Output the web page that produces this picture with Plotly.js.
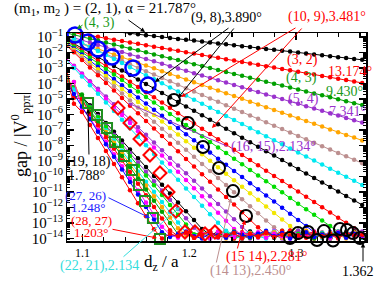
<!DOCTYPE html>
<html><head><meta charset="utf-8">
<script src="https://cdn.plot.ly/plotly-3.0.1.min.js"></script>
<style>html,body{margin:0;padding:0;background:#fff}#chart{width:374px;height:283px}</style>
</head><body><div id="chart"></div>
<script>
// d_z / a grid
const dz = [1.0845,1.092,1.0995,1.107,1.1145,1.122,1.1295,1.137,1.1445,1.152,1.1595,1.167,1.1745,1.182,1.1895,1.197,1.2045,1.212,1.2195,1.227,1.2345,1.242,1.2495,1.257,1.2645,1.272,1.2795,1.287,1.2945,1.302,1.3095,1.317,1.3245,1.332,1.3395,1.347,1.3545,1.362];
// log10(gap/|V|) for (m, m-1)
const lg2 = [-0.29,-0.35,-0.41,-0.47,-0.53,-0.59,-0.64,-0.70,-0.76,-0.82,-0.88,-0.94,-1.00,-1.06,-1.12,-1.18,-1.23,-1.29,-1.35,-1.41,-1.47,-1.53,-1.59,-1.65,-1.71,-1.77,-1.82,-1.88,-1.94,-2.00,-2.06,-2.12,-2.18,-2.24,-2.30,-2.36,-2.41,-2.47];
const lg3 = [-0.63,-0.72,-0.81,-0.90,-0.99,-1.08,-1.17,-1.26,-1.35,-1.44,-1.53,-1.62,-1.71,-1.80,-1.89,-1.98,-2.07,-2.16,-2.25,-2.34,-2.43,-2.52,-2.61,-2.70,-2.79,-2.88,-2.97,-3.06,-3.15,-3.24,-3.33,-3.42,-3.51,-3.60,-3.69,-3.78,-3.87,-3.96];
const lg4 = [-0.73,-0.86,-0.98,-1.11,-1.23,-1.36,-1.49,-1.61,-1.74,-1.86,-1.99,-2.12,-2.24,-2.37,-2.49,-2.62,-2.75,-2.87,-3.00,-3.12,-3.25,-3.38,-3.50,-3.63,-3.75,-3.88,-4.01,-4.13,-4.26,-4.38,-4.51,-4.64,-4.76,-4.89,-5.01,-5.14,-5.27,-5.39];
const lg5 = [-0.90,-1.05,-1.20,-1.36,-1.51,-1.66,-1.81,-1.96,-2.12,-2.27,-2.42,-2.57,-2.72,-2.88,-3.03,-3.18,-3.33,-3.48,-3.64,-3.79,-3.94,-4.09,-4.24,-4.40,-4.55,-4.70,-4.85,-5.00,-5.16,-5.31,-5.46,-5.61,-5.76,-5.92,-6.07,-6.22,-6.37,-6.52];
const lg6 = [-1.05,-1.23,-1.41,-1.59,-1.77,-1.95,-2.12,-2.30,-2.48,-2.66,-2.84,-3.02,-3.20,-3.38,-3.56,-3.74,-3.91,-4.09,-4.27,-4.45,-4.63,-4.81,-4.99,-5.17,-5.35,-5.53,-5.70,-5.88,-6.06,-6.24,-6.42,-6.60,-6.78,-6.96,-7.14,-7.32,-7.49,-7.67];
const lg7 = [-1.00,-1.22,-1.44,-1.66,-1.88,-2.10,-2.32,-2.54,-2.76,-2.98,-3.20,-3.42,-3.64,-3.86,-4.08,-4.30,-4.52,-4.74,-4.96,-5.18,-5.40,-5.62,-5.84,-6.06,-6.28,-6.50,-6.72,-6.94,-7.16,-7.38,-7.60,-7.82,-8.04,-8.26,-8.48,-8.70,-8.92,-9.14];
const lg8 = [-0.85,-1.11,-1.37,-1.64,-1.90,-2.16,-2.42,-2.68,-2.95,-3.21,-3.47,-3.73,-3.99,-4.26,-4.52,-4.78,-5.04,-5.30,-5.57,-5.83,-6.09,-6.35,-6.61,-6.88,-7.14,-7.40,-7.66,-7.92,-8.19,-8.45,-8.71,-8.97,-9.23,-9.50,-9.76,-10.02,-10.28,-10.54];
const lg9 = [-1.14,-1.43,-1.72,-2.01,-2.30,-2.59,-2.87,-3.16,-3.45,-3.74,-4.03,-4.32,-4.61,-4.90,-5.19,-5.48,-5.76,-6.05,-6.34,-6.63,-6.92,-7.21,-7.50,-7.79,-8.08,-8.37,-8.65,-8.94,-9.23,-9.52,-9.81,-10.10,-10.39,-10.68,-10.97,-11.26,-11.54,-11.83];
const lg10 = [-1.18,-1.52,-1.86,-2.19,-2.53,-2.87,-3.21,-3.54,-3.88,-4.22,-4.56,-4.89,-5.23,-5.57,-5.91,-6.24,-6.58,-6.92,-7.26,-7.59,-7.93,-8.27,-8.61,-8.94,-9.28,-9.62,-9.96,-10.29,-10.63,-10.97,-11.31,-11.64,-11.98,-12.32,-12.66,-12.99,-13.33,-13.67];
const lg11 = [-1.25,-1.61,-1.97,-2.34,-2.70,-3.06,-3.42,-3.78,-4.15,-4.51,-4.87,-5.23,-5.59,-5.96,-6.32,-6.68,-7.04,-7.40,-7.77,-8.13,-8.49,-8.85,-9.21,-9.58,-9.94,-10.30,-10.66,-11.02,-11.39,-11.75,-12.11,-12.47,-12.83,-13.20,-13.56,-13.85,-13.7,-13.95];
const lg12 = [-1.34,-1.74,-2.13,-2.53,-2.92,-3.32,-3.71,-4.11,-4.50,-4.90,-5.29,-5.69,-6.08,-6.48,-6.87,-7.27,-7.66,-8.06,-8.45,-8.85,-9.24,-9.64,-10.03,-10.43,-10.82,-11.22,-11.61,-12.01,-12.40,-12.80,-13.19,-13.59,-13.85,-13.6,-13.95,-13.75,-13.5,-13.9];
const lg13 = [-1.40,-1.82,-2.24,-2.66,-3.08,-3.51,-3.93,-4.35,-4.77,-5.19,-5.61,-6.03,-6.45,-6.87,-7.29,-7.72,-8.14,-8.56,-8.98,-9.40,-9.82,-10.24,-10.66,-11.08,-11.50,-11.93,-12.35,-12.77,-13.19,-13.61,-13.9,-13.6,-13.8,-14.0,-13.65,-13.85,-13.55,-13.9];
const lg14 = [-1.45,-1.91,-2.36,-2.82,-3.27,-3.73,-4.18,-4.64,-5.09,-5.55,-6.00,-6.46,-6.91,-7.37,-7.82,-8.28,-8.73,-9.19,-9.64,-10.10,-10.55,-11.01,-11.46,-11.92,-12.37,-12.83,-13.28,-13.74,-13.55,-13.9,-13.7,-14.0,-13.6,-13.85,-13.7,-13.95,-13.6,-13.8];
const lg15 = [-1.50,-1.99,-2.48,-2.97,-3.46,-3.96,-4.45,-4.94,-5.43,-5.92,-6.41,-6.90,-7.39,-7.88,-8.37,-8.87,-9.36,-9.85,-10.34,-10.83,-11.32,-11.81,-12.30,-12.79,-13.28,-13.78,-13.6,-13.95,-13.7,-13.5,-13.85,-14.0,-13.65,-13.8,-13.55,-13.9,-13.7,-13.85];
const lg16 = [-2.36,-2.86,-3.35,-3.85,-4.34,-4.84,-5.33,-5.83,-6.32,-6.82,-7.31,-7.81,-8.30,-8.80,-9.29,-9.79,-10.28,-10.78,-11.27,-11.77,-12.26,-12.76,-13.25,-13.7,-13.9,-13.55,-13.8,-14.0,-13.65,-13.85,-13.5,-13.75,-13.95,-13.6,-13.8,-13.7,-13.9,-13.6];
const lg17 = [-2.35,-2.88,-3.40,-3.93,-4.45,-4.98,-5.50,-6.03,-6.55,-7.08,-7.60,-8.13,-8.65,-9.18,-9.70,-10.23,-10.75,-11.28,-11.80,-12.33,-12.85,-13.38,-13.8,-13.6,-13.95,-13.7,-13.5,-13.85,-14.0,-13.65,-13.8,-13.55,-13.9,-13.75,-13.6,-13.95,-13.7,-13.85];
const lg18 = [-2.44,-3.00,-3.55,-4.11,-4.66,-5.22,-5.77,-6.33,-6.88,-7.44,-7.99,-8.55,-9.10,-9.66,-10.21,-10.77,-11.32,-11.88,-12.43,-12.99,-13.54,-13.9,-13.7,-13.55,-13.85,-14.0,-13.6,-13.75,-13.9,-13.5,-13.8,-13.65,-13.95,-13.7,-13.55,-13.85,-13.75,-13.95];
const lg19 = [-3.69,-4.26,-4.83,-5.40,-5.97,-6.54,-7.11,-7.68,-8.25,-8.82,-9.39,-9.96,-10.53,-11.10,-11.67,-12.24,-12.81,-13.38,-13.75,-13.6,-13.9,-13.7,-14.0,-13.55,-13.8,-13.65,-13.95,-13.7,-13.5,-13.85,-13.6,-13.9,-13.75,-14.0,-13.65,-13.8,-13.55,-13.9];
const lg20 = [-3.70,-4.30,-4.90,-5.50,-6.10,-6.70,-7.30,-7.90,-8.50,-9.10,-9.70,-10.30,-10.90,-11.50,-12.10,-12.70,-13.30,-13.8,-13.6,-13.95,-13.7,-13.55,-13.85,-14.0,-13.65,-13.8,-13.6,-13.9,-13.7,-13.5,-13.85,-13.95,-13.65,-13.8,-13.6,-13.9,-13.75,-13.55];
const lg21 = [-3.64,-4.27,-4.90,-5.53,-6.16,-6.79,-7.42,-8.05,-8.68,-9.31,-9.94,-10.57,-11.20,-11.83,-12.46,-13.09,-13.72,-13.6,-13.9,-13.75,-13.55,-14.0,-13.8,-13.65,-13.9,-13.7,-13.85,-13.5,-13.95,-13.7,-13.6,-13.85,-13.75,-14.0,-13.6,-13.8,-13.7,-13.9];
const lg22 = [-3.73,-4.39,-5.05,-5.71,-6.37,-7.03,-7.69,-8.35,-9.01,-9.67,-10.33,-10.99,-11.65,-12.31,-12.97,-13.63,-13.85,-13.6,-13.95,-13.7,-13.5,-13.8,-14.0,-13.65,-13.9,-13.75,-13.55,-13.85,-13.7,-13.95,-13.6,-13.8,-13.65,-13.9,-13.75,-13.55,-13.85,-13.7];
const lg23 = [-4.20,-3.90,-5.20,-5.75,-6.44,-7.13,-7.82,-8.51,-9.20,-9.89,-10.58,-11.27,-11.96,-12.65,-13.34,-13.75,-13.95,-13.6,-13.85,-13.7,-14.0,-13.55,-13.8,-13.65,-13.9,-13.75,-13.6,-13.95,-13.7,-13.85,-13.5,-13.8,-13.9,-13.65,-13.75,-14.0,-13.6,-13.85];
const lg24 = [-3.20,-4.90,-4.70,-5.80,-6.52,-7.24,-7.96,-8.68,-9.40,-10.12,-10.84,-11.56,-12.28,-13.00,-13.72,-13.6,-13.9,-13.75,-14.0,-13.65,-13.85,-13.55,-13.8,-13.95,-13.7,-13.6,-13.9,-13.75,-13.5,-13.85,-13.65,-14.0,-13.7,-13.8,-13.6,-13.9,-13.75,-13.85];
const lg25 = [-3.00,-4.90,-5.00,-5.96,-6.71,-7.46,-8.21,-8.96,-9.71,-10.46,-11.21,-11.96,-12.71,-13.46,-13.85,-13.65,-13.95,-13.7,-13.55,-13.9,-13.8,-14.0,-13.6,-13.75,-13.9,-13.65,-13.85,-13.5,-13.8,-13.95,-13.7,-13.6,-13.85,-13.75,-14.0,-13.65,-13.8,-13.9];
const lg26 = [-4.50,-3.90,-5.60,-6.22,-7.00,-7.78,-8.56,-9.34,-10.12,-10.90,-11.68,-12.46,-13.24,-13.75,-13.95,-13.6,-13.85,-13.7,-14.0,-13.55,-13.8,-13.9,-13.65,-13.75,-13.6,-13.95,-13.7,-13.85,-13.5,-13.8,-13.9,-13.65,-13.75,-14.0,-13.6,-13.85,-13.7,-13.9];
const lg27 = [-3.87,-4.68,-5.49,-6.30,-7.11,-7.92,-8.73,-9.54,-10.35,-11.16,-11.97,-12.78,-13.59,-13.9,-13.7,-13.55,-13.85,-14.0,-13.65,-13.8,-13.95,-13.6,-13.75,-13.9,-13.7,-13.5,-13.85,-13.65,-14.0,-13.8,-13.6,-13.9,-13.75,-13.85,-13.65,-13.95,-13.7,-13.8];
const lg28 = [-3.50,-5.30,-5.84,-6.68,-7.52,-8.36,-9.20,-10.04,-10.88,-11.72,-12.56,-13.40,-14.0,-13.7,-13.85,-13.6,-13.95,-13.75,-13.55,-13.9,-13.8,-13.65,-14.0,-13.7,-13.85,-13.6,-13.9,-13.75,-13.5,-13.8,-13.95,-13.65,-13.85,-13.7,-13.9,-13.6,-13.8,-13.75];

const seriesLg = [lg2,lg3,lg4,lg5,lg6,lg7,lg8,lg9,lg10,lg11,lg12,lg13,lg14,lg15,lg16,lg17,lg18,lg19,lg20,lg21,lg22,lg23,lg24,lg25,lg26,lg27,lg28];
const seriesName = ['(2,1)','(3,2)','(4,3)','(5,4)','(6,5)','(7,6)','(8,7)','(9,8)','(10,9)','(11,10)','(12,11)','(13,12)','(14,13)','(15,14)','(16,15)','(17,16)','(18,17)','(19,18)','(20,19)','(21,20)','(22,21)','(23,22)','(24,23)','(25,24)','(26,25)','(27,26)','(28,27)'];
const seriesColor = ['#000000','#ff0000','#00a000','#9a32cd','#ffa500','#bc8f8f','#00e8f0','#000000','#ff0000','#00dd00','#0000ff','#f2e600','#bc8f8f','#ff0000','#9a32cd','#ff00ff','#00e8f0','#000000','#9a32cd','#00dd00','#00e8f0','#ffa500','#00a000','#ff0000','#ff00ff','#0000ff','#ff0000'];

// highlighted points
const blueCircleDz = [1.0930,1.1052,1.1145,1.1276,1.1473,1.1614];
const blueCircleLg = [-0.87,-1.32,-1.77,-2.29,-3.00,-4.10];
const blackCircleDz = [1.1857,1.1988,1.2129,1.2279,1.2410,1.2532,1.2944,1.3019,1.3112,1.3197,1.3262,1.3347,1.3412,1.3478,1.3534,1.3600];
const blackCircleLg = [-5.06,-6.55,-8.10,-9.45,-10.94,-12.55,-13.97,-13.65,-13.58,-14.10,-13.52,-14.13,-13.39,-13.45,-13.65,-13.97];
const diamondDz = [1.1333,1.1445,1.1539,1.1632,1.1726,1.1801,1.1876,1.1960,1.2054,1.2148,1.2241];
const diamondLg = [-5.58,-6.55,-7.58,-8.61,-9.77,-11.00,-12.23,-13.58,-13.58,-13.71,-13.58];
const squareDz = [1.1052,1.1136,1.1230,1.1304,1.1389,1.1464,1.1529,1.1586,1.1660,1.1726];
const squareLg = [-5.26,-6.03,-6.87,-7.77,-8.68,-9.58,-10.55,-11.58,-12.68,-14.03];

const toGap = v => Math.pow(10, v);
const SERIF = 'Liberation Serif, Times New Roman, serif';

const traces = [];
seriesLg.forEach((lg, i) => {
  traces.push({x: dz, y: lg.map(toGap), name: seriesName[i], type: 'scatter', mode: 'lines+markers',
    line: {color: seriesColor[i], width: 1}, marker: {color: seriesColor[i], size: 4.5}, hoverinfo: 'skip'});
});
traces.push({x: diamondDz, y: diamondLg.map(toGap), mode: 'markers', cliponaxis: false,
  marker: {symbol: 'diamond-open', size: 10, color: '#ff0000', line: {width: 2, color: '#ff0000'}}});
traces.push({x: squareDz, y: squareLg.map(toGap), mode: 'markers', cliponaxis: false,
  marker: {symbol: 'square-open', size: 10, color: '#1f8f1f', line: {width: 2, color: '#1f8f1f'}}});
traces.push({x: blackCircleDz, y: blackCircleLg.map(toGap), mode: 'markers', cliponaxis: false,
  marker: {symbol: 'circle-open', size: 12, color: '#000000', line: {width: 2, color: '#000000'}}});
traces.push({x: blueCircleDz, y: blueCircleLg.map(toGap), mode: 'markers', cliponaxis: false,
  marker: {symbol: 'circle-open', size: 15, color: '#0000ff', line: {width: 2.5, color: '#0000ff'}}});

// pixel -> paper helpers for annotation placement (plot area 67..366 x 33..241)
const P = px => (px - 67) / 299;
const Q = py => (241 - py) / 208;
function label(px, py, text, color, size, extra) {
  return Object.assign({xref: 'paper', yref: 'paper', x: P(px), y: Q(py), text: text, showarrow: false,
    xanchor: 'center', yanchor: 'middle', borderpad: 0, font: {family: SERIF, size: size || 14, color: color}}, extra || {});
}
function arrow(hx, hy, tx, ty, color) {
  return {xref: 'paper', yref: 'paper', x: P(hx), y: Q(hy), ax: tx - hx, ay: ty - hy, text: '',
    showarrow: true, arrowcolor: color, arrowhead: 2, arrowsize: 0.9, arrowwidth: 1, standoff: 0};
}
const RED = '#ff0000', GRN = '#1a9a1a', PUR = '#9a32cd', BLU = '#2020ff', CYA = '#33dddd', TAN = '#bc8f8f';

const annotations = [
  label(13, 9, '(m<sub>1</sub>, m<sub>2</sub> ) = (2, 1), α = 21.787°', '#000', 15, {xanchor: 'left'}),
  arrow(145, 32, 127, 19, '#000'),
  label(99, 23, '(4, 3)', GRN, 14),
  arrow(77, 29, 84, 24, GRN),
  label(226, 18, '(9, 8),3.890°', '#000', 14),
  arrow(155, 82, 230, 27, '#000'),
  arrow(178, 98, 235, 27, '#000'),
  label(327, 17, '(10, 9),3.481°', RED, 14),
  arrow(181, 97, 297, 27, RED),
  arrow(212, 128, 303, 27, RED),
  label(302, 60, '(3, 2)', RED, 14),
  label(373, 71, '13.174°', RED, 14, {xanchor: 'right'}),
  label(301, 78, '(4, 3)', GRN, 14),
  label(344, 91, '9.430°', GRN, 14),
  label(303, 99, '(5, 4)', PUR, 14),
  label(347, 111, '7.341°', PUR, 14),
  label(273, 147, '(16, 15),2.134°', PUR, 14),
  arrow(128, 103, 229, 147, PUR),
  label(88, 162, '(19, 18)', '#000', 14),
  label(86, 175, '1.788°', '#000', 14),
  arrow(88, 109, 89, 156, '#000'),
  label(85, 195, '(27, 26)', BLU, 13),
  label(88, 207, '1.248°', BLU, 13),
  arrow(150, 218, 107, 197, BLU),
  label(91, 220, '(28, 27)', RED, 13),
  label(91, 232, '1.203°', RED, 13),
  arrow(157, 238, 111, 229, RED),
  label(99, 266, '(22, 21),2.134', CYA, 14),
  arrow(180, 207, 122, 258, CYA),
  label(266, 257, '(15 14),2.281°', RED, 14),
  arrow(245, 220, 237, 250, RED),
  label(250, 271, '(14 13),2.450°', TAN, 14),
  arrow(231, 198, 216, 264, TAN),
  label(358, 271, '1.362', '#000', 14),
  arrow(363, 243, 363, 263, '#000'),
  label(161, 263, 'd<sub>z</sub> / a', '#000', 17),
  label(20, 135, 'gap / |V<sup>0</sup><sub>ppπ</sub>|', '#000', 18, {textangle: -90})
];

const axisCommon = {showgrid: false, zeroline: false, showline: true, linecolor: '#000', linewidth: 1.5,
  mirror: 'ticks', ticks: 'inside', ticklen: 7, tickwidth: 1.2, tickcolor: '#000',
  tickfont: {family: SERIF, size: 12, color: '#000'}};

const layout = {
  width: 374, height: 283, margin: {l: 67, r: 8, t: 33, b: 42},
  paper_bgcolor: '#fff', plot_bgcolor: '#fff', showlegend: false,
  font: {family: SERIF, color: '#000'},
  xaxis: Object.assign({}, axisCommon, {range: [1.0855, 1.3656], tick0: 1.1, dtick: 0.1, tickformat: '.1f',
    minor: {tick0: 1.1, dtick: 0.02, ticks: 'inside', ticklen: 4, tickcolor: '#000', showgrid: false}}),
  yaxis: Object.assign({}, axisCommon, {type: 'log', range: [-14.16, -0.74], dtick: 1, exponentformat: 'power',
    minor: {dtick: 'D1', ticks: 'inside', ticklen: 3, tickcolor: '#000', showgrid: false}}),
  annotations: annotations
};

Plotly.newPlot('chart', traces, layout, {displayModeBar: false, staticPlot: true});
</script>
</body></html>
